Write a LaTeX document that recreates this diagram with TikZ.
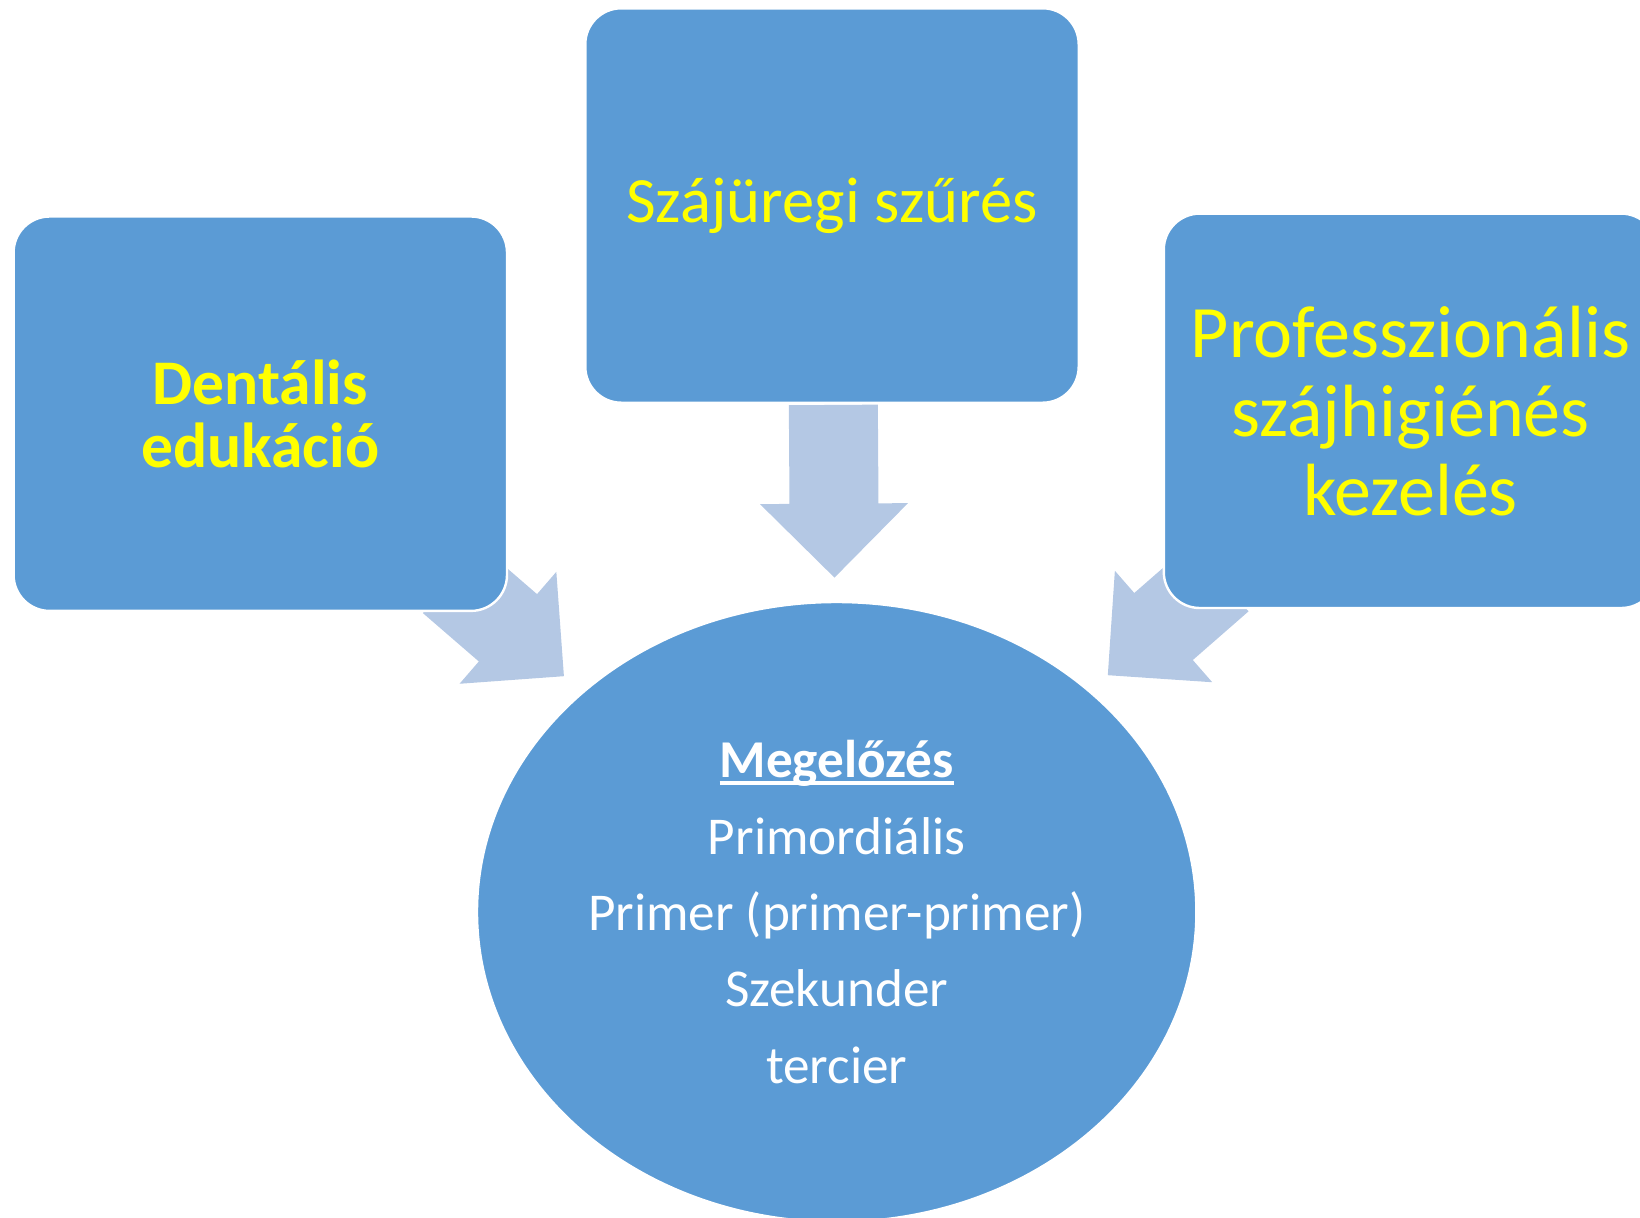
\documentclass[tikz,border=0pt]{standalone}
\usepackage{fontspec}
\setmainfont{Carlito}
\usetikzlibrary{calc,shapes.geometric}
\pgfdeclarelayer{background}
\pgfsetlayers{background,main}

\definecolor{boxblue}{RGB}{91,155,213}
\definecolor{arrowblue}{RGB}{180,200,228}
\definecolor{txtyellow}{RGB}{255,255,0}

\newcommand{\thickul}[1]{\setbox0\hbox{#1}\rlap{\rule[-3.6pt]{\wd0}{1.9pt}}\box0}

\tikzset{
  topic/.style={draw=white, line width=1.2pt, fill=boxblue, rounded corners=18pt,
    minimum width=246.7pt, minimum height=197.2pt, inner sep=0pt,
    align=center, text=txtyellow},
  core/.style={ellipse, draw=white, line width=1.2pt, fill=boxblue,
    minimum width=359.7pt, minimum height=310pt, inner sep=0pt,
    align=center, text=white},
  bigarrow/.pic={
    \fill[arrowblue] (0,0) -- (-74,74) -- (-74,44.5) -- (-#1,44.5)
      -- (-#1,-44.5) -- (-74,-44.5) -- (-74,-74) -- cycle;
  }
}

\begin{document}
\begin{tikzpicture}[x=0.5pt, y=-0.5pt]
\useasboundingbox (0,0) rectangle (1640,1217);
\node[topic, font=\bfseries\fontsize{31.8}{31.4}\selectfont] (edu) at (260.3, 413.7) {Dentális\\edukáció};
\node[topic, font=\fontsize{32.3}{36}\selectfont] (szures) at (832, 205.5) {Szájüregi szűrés};
\node[topic, font=\fontsize{37}{39.6}\selectfont] (prof) at (1410.5, 410.8) {Professzionális\\szájhigiénés\\kezelés};
\node[core, font=\fontsize{26.6}{38.2}\selectfont] (meg) at (836.7, 912)
  {\thickul{\textbf{Megelőzés}}\\Primordiális\\Primer (primer-primer)\\Szekunder\\tercier};
% arrows towards the ellipse
\begin{pgfonlayer}{background}
\path let \p1=($(meg.center)-(edu.center)$), \n1={atan2(\y1,\x1)} in
  ($(meg.center)!180.3pt!(edu.center)$) pic[rotate=\n1] {bigarrow=148};
\path let \p1=($(meg.center)-(szures.center)$), \n1={atan2(\y1,\x1)} in
  ($(meg.center)!167.2pt!(szures.center)$) pic[rotate=\n1] {bigarrow=172.7};
\path let \p1=($(meg.center)-(prof.center)$), \n1={atan2(\y1,\x1)} in
  ($(meg.center)!180pt!(prof.center)$) pic[rotate=\n1] {bigarrow=148};
\end{pgfonlayer}
\end{tikzpicture}
\end{document}
